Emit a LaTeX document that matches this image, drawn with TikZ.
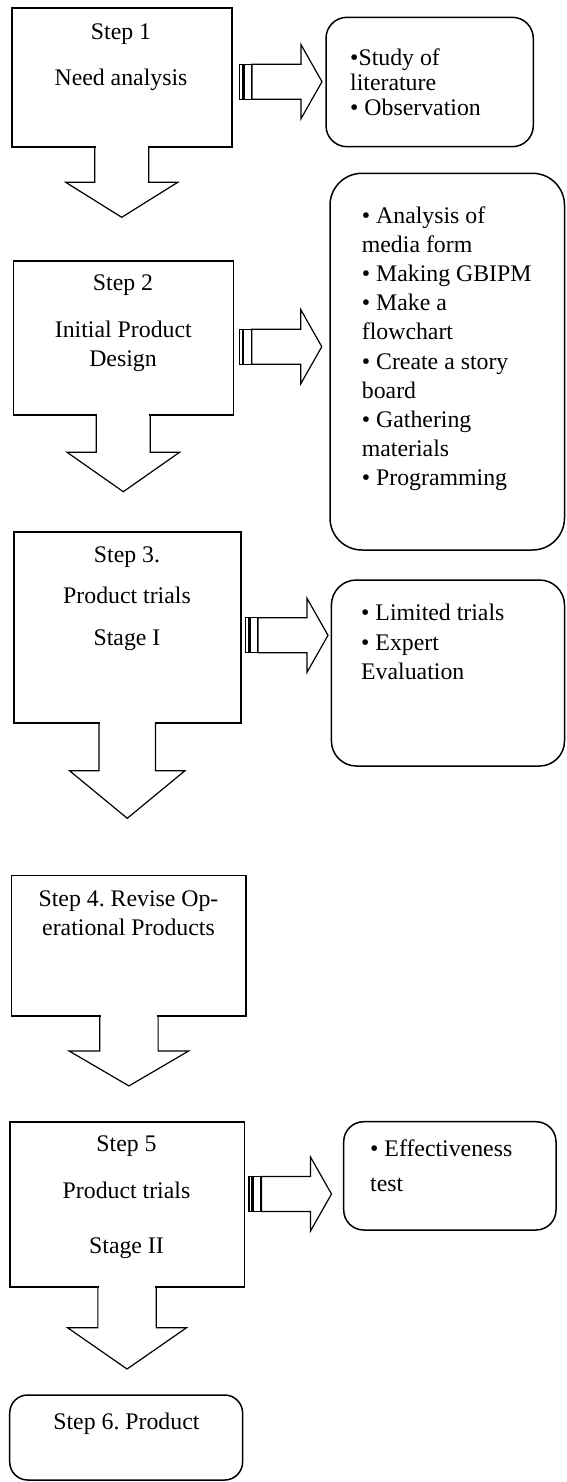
\documentclass[tikz,border=0pt]{standalone}
\usepackage{fontspec}
\setmainfont{Liberation Serif}
\usetikzlibrary{calc}
\tikzset{
  stepbox/.style={draw, line width=1.6pt, inner sep=0pt, outer sep=0pt},
  infobox/.style={draw, line width=1.5pt, inner sep=0pt, outer sep=0pt, rounded corners=#1},
  blockarrow/.style={draw, line width=1.2pt, line join=miter},
  txt/.style={font=\fontsize{23.8}{28}\selectfont\frenchspacing, inner sep=0pt, anchor=base},
  ltxt/.style={txt, anchor=base west},
}
\newcommand\dnarrow[5]{%
  \begin{scope}[shift={(#1.south)}]
    \fill[white] ({-#2+0.9},-1.2) rectangle ({#2-0.9},1);
    \draw[blockarrow] (-#2,0) -- (-#2,#3) -- (-#4,#3) -- (0,{#3+#5}) -- (#4,#3) -- (#2,#3) -- (#2,0);
  \end{scope}}
\newcommand\stripearrow[1]{%
  \begin{scope}[shift={(#1)}]
    \draw[blockarrow] (0,-17.5) rectangle (3,17.5);
    \draw[blockarrow] (4.5,-17.5) rectangle (12,17.5);
    \draw[blockarrow] (12.5,-17.5) -- (61.5,-17.5) -- (61.5,-37) -- (82.5,0) -- (61.5,37) -- (61.5,17.5) -- (12.5,17.5) -- cycle;
  \end{scope}}
\begin{document}
\begin{tikzpicture}[x=1pt,y=-1pt]
\useasboundingbox (0,0) rectangle (566,1482);

% step boxes
\node[stepbox, minimum width=220pt, minimum height=139pt] (s1) at (121.7,77.8) {};
\node[stepbox, minimum width=220pt, minimum height=154.3pt] (s2) at (123.3,337.85) {};
\node[stepbox, minimum width=227.1pt, minimum height=191pt] (s3) at (127.25,627.2) {};
\node[stepbox, minimum width=234.6pt, minimum height=140.6pt] (s4) at (128.9,945.6) {};
\node[stepbox, minimum width=234.7pt, minimum height=165pt] (s5) at (127.05,1204.2) {};
\node[infobox=18pt, minimum width=232.9pt, minimum height=85pt] (s6) at (126.15,1437.5) {};

% info boxes
\node[infobox=21pt, minimum width=207.3pt, minimum height=129.4pt] (r1) at (429.65,82) {};
\node[infobox=32pt, minimum width=234.5pt, minimum height=376.7pt] (r2) at (447.25,361.65) {};
\node[infobox=25pt, minimum width=233.1pt, minimum height=186pt] (r3) at (447.95,673) {};
\node[infobox=20pt, minimum width=212.3pt, minimum height=108.3pt] (r5) at (449.85,1175.85) {};

% down arrows
\dnarrow{s1}{27}{35}{56}{35}
\dnarrow{s2}{27}{37.3}{56.2}{39.4}
\dnarrow{s3}{28.3}{48}{57.7}{47.6}
\dnarrow{s4}{29.2}{35}{59.9}{35}
\dnarrow{s5}{29.2}{41}{59.5}{41.3}

% striped right arrows
\coordinate (a1) at (239.5,81.7);
\coordinate (a2) at (239.3,346.7);
\coordinate (a3) at (245.5,635.3);
\coordinate (a5) at (249,1194);
\stripearrow{a1}
\stripearrow{a2}
\stripearrow{a3}
\stripearrow{a5}

% step texts
\node[txt] (t1a) at (121,40) {Step 1};
\node[txt] (t1b) at (121,86) {Need analysis};
\node[txt] (t2a) at (123,290.7) {Step 2};
\node[txt] (t2b) at (123.3,337.7) {Initial Product};
\node[txt] (t2c) at (123,366) {Design};
\node[txt] (t3a) at (127,562.7) {Step 3.};
\node[txt] (t3b) at (127,603.3) {Product trials};
\node[txt] (t3c) at (127,645) {Stage I};
\node[txt] (t4a) at (128.5,906.7) {Step 4. Revise Op-};
\node[txt] (t4b) at (128.5,935) {erational Products};
\node[txt] (t5a) at (126.5,1151.5) {Step 5};
\node[txt] (t5b) at (126.5,1198) {Product trials};
\node[txt] (t5c) at (126.5,1253) {Stage II};
\node[txt] (t6a) at (126.4,1429) {Step 6. Product};

% info texts
\node[ltxt] (u1a) at (350,66) {•Study of};
\node[ltxt] (u1b) at (350,91) {literature};
\node[ltxt] (u1c) at (350,116) {• Observation};

\node[ltxt] (u2a) at (361.7,223) {• Analysis of};
\node[ltxt] (u2b) at (361.7,252.2) {media form};
\node[ltxt] (u2c) at (361.7,281.4) {• Making GBIPM};
\node[ltxt] (u2d) at (361.7,310.6) {• Make a};
\node[ltxt] (u2e) at (361.7,339.8) {flowchart};
\node[ltxt] (u2f) at (361.7,369) {• Create a story};
\node[ltxt] (u2g) at (361.7,398.2) {board};
\node[ltxt] (u2h) at (361.7,427.4) {• Gathering};
\node[ltxt] (u2i) at (361.7,456.6) {materials};
\node[ltxt] (u2j) at (361.7,485.8) {• Programming};

\node[ltxt] (u3a) at (361,620) {• Limited trials};
\node[ltxt] (u3b) at (361,650) {• Expert};
\node[ltxt] (u3c) at (361,679.3) {Evaluation};

\node[ltxt] (u5a) at (370,1156) {• Effectiveness};
\node[ltxt] (u5b) at (370,1191) {test};
\end{tikzpicture}
\end{document}
